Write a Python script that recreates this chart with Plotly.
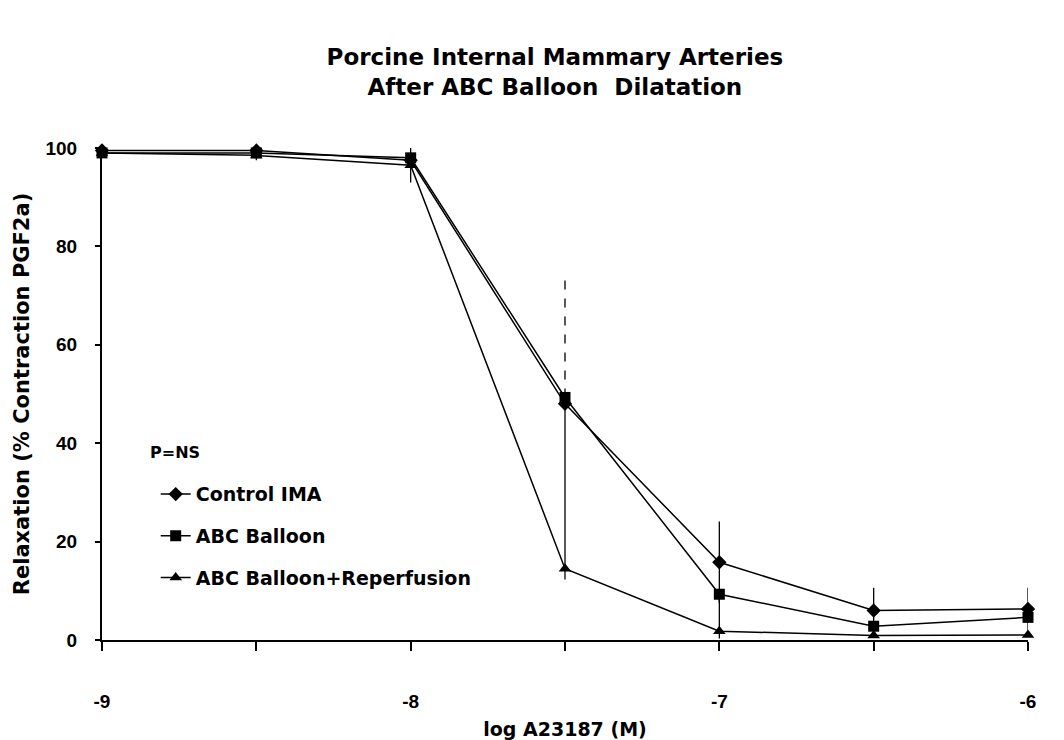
import plotly.graph_objects as go

# ---- data ----
log_conc = [-9, -8.5, -8, -7.5, -7, -6.5, -6]
control_ima = [99.5, 99.5, 97.5, 48.0, 15.8, 6.0, 6.3]
abc_balloon = [99.0, 99.0, 98.0, 49.3, 9.3, 2.8, 4.6]
abc_reperf = [99.0, 98.5, 96.5, 14.5, 1.8, 0.9, 1.0]

control_err = [0, 2.0, 0, 0, 8.3, 4.6, 4.3]
balloon_err_up = [0, 0, 0, 24.5, 0, 0, 0]      # drawn dashed
balloon_err_down = [0, 0, 1.5, 37.0, 9.0, 0, 0]
reperf_err = [0, 0, 3.5, 0, 0, 0, 0]

x_tick_vals = [-9, -8, -7, -6]
x_tick_text = ["-9", "-8", "-7", "-6"]
y_tick_vals = [0, 20, 40, 60, 80, 100]

FONT = "Liberation Sans"
WFONT = "DejaVu Sans"
BLACK = "black"

fig = go.Figure()

# dashed upper error bars for ABC Balloon
dx, dy = [], []
for xv, yv, e in zip(log_conc, abc_balloon, balloon_err_up):
    if e > 0:
        dx += [xv, xv, None]
        dy += [yv, yv + e, None]
fig.add_trace(go.Scatter(x=dx, y=dy, mode="lines", showlegend=False,
                         line=dict(color=BLACK, width=1.3, dash="dash"),
                         hoverinfo="skip"))

fig.add_trace(go.Scatter(
    x=log_conc, y=control_ima, name="Control IMA", legendgroup="a",
    mode="lines+markers",
    line=dict(color=BLACK, width=1.5),
    marker=dict(symbol="diamond", size=11, color=BLACK),
    error_y=dict(type="data", array=control_err, visible=True,
                 color=BLACK, thickness=1.3, width=0),
    cliponaxis=False))

fig.add_trace(go.Scatter(
    x=log_conc, y=abc_balloon, name="ABC Balloon", legendgroup="b",
    mode="lines+markers",
    line=dict(color=BLACK, width=1.5),
    marker=dict(symbol="square", size=11, color=BLACK),
    error_y=dict(type="data", symmetric=False,
                 array=[0] * len(log_conc), arrayminus=balloon_err_down,
                 visible=True, color=BLACK, thickness=1.3, width=0),
    cliponaxis=False))

fig.add_trace(go.Scatter(
    x=log_conc, y=abc_reperf, name="ABC Balloon+Reperfusion", legendgroup="c",
    mode="lines+markers",
    line=dict(color=BLACK, width=1.5),
    marker=dict(symbol="triangle-up", size=11, color=BLACK),
    error_y=dict(type="data", array=reperf_err, visible=True,
                 color=BLACK, thickness=1.3, width=0),
    cliponaxis=False))

fig.update_layout(
    width=1064, height=740,
    paper_bgcolor="white", plot_bgcolor="white",
    margin=dict(l=94, r=44, t=140, b=108),
    font=dict(family=FONT, color=BLACK, size=15),
    title=dict(text="<b>Porcine Internal Mammary Arteries<br>After ABC Balloon  Dilatation</b>",
               x=0.514, xanchor="center", y=0.923, yanchor="top",
               font=dict(size=23, family=WFONT)),
    legend=dict(x=0.058, y=0.335, xanchor="left", yanchor="top",
                bgcolor="rgba(0,0,0,0)", tracegroupgap=14,
                font=dict(size=19, family=WFONT, weight="bold"), itemwidth=30),
    showlegend=True,
    annotations=[dict(text="<b>P=NS</b>", xref="paper", yref="paper",
                      x=0.05, y=0.382, xanchor="left", yanchor="middle",
                      showarrow=False, font=dict(size=16, family=WFONT))],
)

fig.update_xaxes(
    range=[-9, -6], tickvals=x_tick_vals, ticktext=x_tick_text,
    automargin=False,
    showgrid=False, zeroline=False, showline=True, linecolor=BLACK, linewidth=2,
    ticks="outside", ticklen=9, tickwidth=2, tickcolor=BLACK,
    minor=dict(tickvals=[-8.5, -7.5, -6.5], ticks="outside", ticklen=9,
               tickwidth=2, tickcolor=BLACK, showgrid=False),
    tickfont=dict(size=19, family=FONT, weight="bold"),
    ticklabelstandoff=34,
    title=dict(text="<b>log A23187 (M)</b>", font=dict(size=19, family=WFONT), standoff=12),
)

fig.update_yaxes(
    range=[0, 100], tickvals=y_tick_vals,
    automargin=False,
    showgrid=False, zeroline=False, showline=True, linecolor=BLACK, linewidth=2,
    ticks="outside", ticklen=5, tickwidth=2, tickcolor=BLACK,
    tickfont=dict(size=19, family=FONT, weight="bold"),
    ticklabelstandoff=14,
    title=dict(text="<b>Relaxation (% Contraction PGF2a)</b>", font=dict(size=21, family=WFONT), standoff=10),
)

fig.write_html("out.html")
